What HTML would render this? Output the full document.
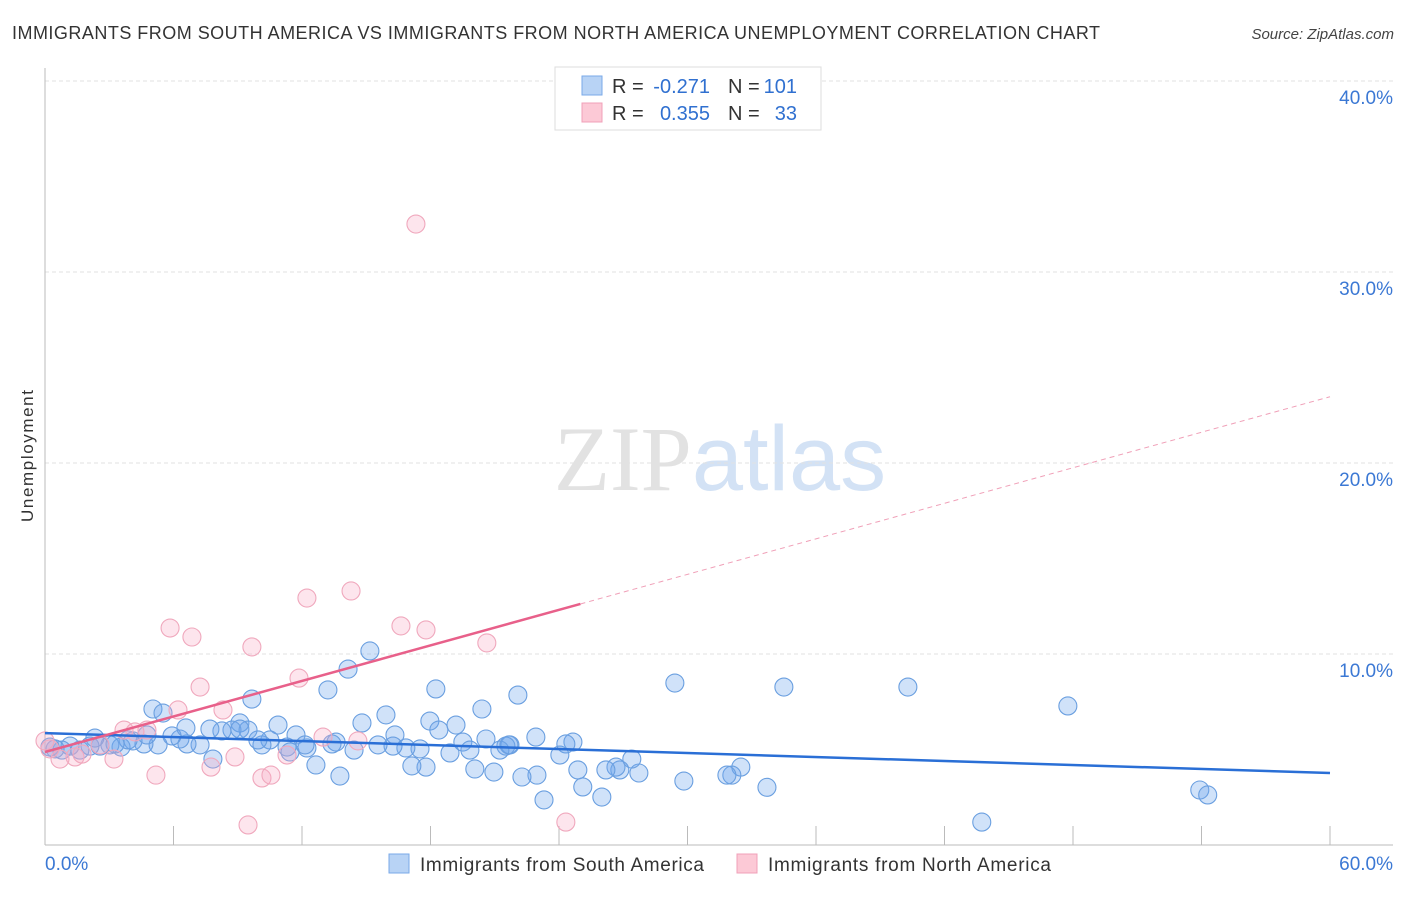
<!DOCTYPE html>
<html><head><meta charset="utf-8"><style>
body{margin:0;background:#fff;font-family:"Liberation Sans",sans-serif;}
svg text{font-family:"Liberation Sans",sans-serif;}
</style></head><body>
<svg id="chart" width="1406" height="892" xmlns="http://www.w3.org/2000/svg">
<text x="12" y="39" font-size="18" fill="#333" textLength="1088" lengthAdjust="spacing">IMMIGRANTS FROM SOUTH AMERICA VS IMMIGRANTS FROM NORTH AMERICA UNEMPLOYMENT CORRELATION CHART</text>
<text x="1394" y="39" font-size="15" fill="#444" text-anchor="end" font-style="italic">Source: ZipAtlas.com</text>
<text x="720" y="490" font-size="92" text-anchor="middle"><tspan fill="#e2e2e2" font-family="Liberation Serif">ZIP</tspan><tspan fill="#d3e2f5">atlas</tspan></text>
<text transform="translate(33,456) rotate(-90)" font-size="17" fill="#333" text-anchor="middle" textLength="132" lengthAdjust="spacing">Unemployment</text>
<g id="grid"></g><g id="pts"></g><g id="lines"></g>
<g>
<rect x="555" y="67" width="266" height="63" fill="#fff" stroke="#ddd"/>
<rect x="582" y="76" width="20" height="19" fill="#b8d3f5" stroke="#7aaae8"/>
<rect x="582" y="103" width="20" height="19" fill="#fcc9d6" stroke="#f0a0b8"/>
<text x="612" y="93" font-size="20" fill="#333">R =</text>
<text x="710" y="93" font-size="20" fill="#3070d0" text-anchor="end">-0.271</text>
<text x="728" y="93" font-size="20" fill="#333">N =</text>
<text x="797" y="93" font-size="20" fill="#3070d0" text-anchor="end">101</text>
<text x="612" y="120" font-size="20" fill="#333">R =</text>
<text x="710" y="120" font-size="20" fill="#3070d0" text-anchor="end">0.355</text>
<text x="728" y="120" font-size="20" fill="#333">N =</text>
<text x="797" y="120" font-size="20" fill="#3070d0" text-anchor="end">33</text>
</g>
<g>
<rect x="389" y="854" width="20" height="19" fill="#b8d3f5" stroke="#7aaae8"/>
<text x="420" y="871" font-size="19" fill="#333" textLength="284" lengthAdjust="spacing">Immigrants from South America</text>
<rect x="737" y="854" width="20" height="19" fill="#fcc9d6" stroke="#f0a0b8"/>
<text x="768" y="871" font-size="19" fill="#333" textLength="283" lengthAdjust="spacing">Immigrants from North America</text>
</g>
</svg>
<script>
const yTicks=[10,20,30,40];
const xTickLabels=["0.0%","60.0%"];
const blueX=[5.04,5.51,9.66,9.1,10.88,13.21,14.15,15.17,14.8,15.92,18.25,17.97,19.19,20.4,22.08,22.92,29.41,34.5,40.29,47.76,53.92,54.29,43.74,33.71,32.49,32.07,31.84,29.83,27.73,27.4,26.84,26.66,26.19,26,25.11,24.88,24.65,24.32,24.04,23.3,22.97,22.27,21.71,21.52,21.24,20.96,20.59,20.07,19.51,18.91,18.39,17.79,17.51,17.13,16.85,16.34,16.25,15.55,14.43,13.77,13.59,12.65,12.23,11.72,11.3,10.5,10.13,9.48,8.73,8.26,7.84,7.7,7.24,6.63,6.3,5.93,5.28,4.62,4.11,3.55,3.03,2.57,2.1,1.63,1.17,0.79,0.47,0.23,9.1,9.94,11.44,12.14,13.4,19.84,21.66,6.58,4.76,3.88,3.27,2.33];
const blueY=[7.12,6.91,7.64,6.39,6.28,8.12,9.21,10.16,6.39,6.81,8.17,6.49,6.28,7.12,7.85,5.65,8.48,8.27,8.27,7.28,2.88,2.62,1.20,3.02,4.08,3.66,3.66,3.35,3.77,4.5,3.93,4.08,3.93,2.51,3.04,3.93,5.39,5.29,4.71,2.36,3.66,3.56,5.24,5.18,4.97,3.82,5.55,3.98,5.39,4.82,6.02,4.08,5.03,4.14,5.08,5.76,5.18,5.24,4.97,3.61,5.39,4.19,5.08,5.76,5.13,5.5,5.24,6.02,6.02,5.97,4.5,6.07,5.24,5.29,5.55,5.71,5.24,5.29,5.45,5.13,5.24,5.18,5.18,4.97,5.18,4.97,5.03,5.13,6.07,5.5,4.87,5.24,5.29,4.97,5.24,6.13,5.76,5.5,5.29,5.6];
const pinkX=[17.32,14.29,12.23,5.84,6.86,9.66,16.62,17.79,20.63,11.86,7.24,6.21,8.31,14.61,12.98,11.3,8.87,7.75,5.18,10.13,10.55,9.48,24.32,3.69,4.2,4.76,3.22,1.4,0.7,1.73,0.23,2.57,0];
const pinkY=[32.51,13.3,12.93,11.36,10.89,10.37,11.47,11.26,10.58,8.74,8.27,7.07,7.07,5.45,5.65,4.71,4.61,4.08,3.66,3.51,3.66,1.05,1.2,6.02,5.92,6.02,4.5,4.61,4.5,4.76,5.03,5.24,5.45];
const blueFit=[5.86,3.77];
const pinkFit=[4.87,0.31];
const NS="http://www.w3.org/2000/svg";
const xs=v=>45+v*(1330-45)/60;
const ys=v=>845-v*19.1;
function mk(t,a,p){const e=document.createElementNS(NS,t);for(const k in a)e.setAttribute(k,a[k]);document.getElementById(p).appendChild(e);return e;}
yTicks.forEach(t=>{
 const l=mk('line',{x1:45,x2:1393,y1:ys(t),y2:ys(t),stroke:'#e2e2e2','stroke-dasharray':'4,3'},'grid');
 
 
 const tx=mk('text',{x:1393,y:ys(t)+23,'font-size':19,fill:'#3b78d4','text-anchor':'end'},'grid');
 tx.textContent=t.toFixed(1)+'%';
 
 
});
const ax=mk('line',{x1:45,x2:45,y1:68,y2:845,stroke:'#bbb'},'grid');


const bx=mk('line',{x1:45,x2:1393,y1:845,y2:845,stroke:'#bbb'},'grid');


for(let i=1;i<=10;i++){const tk=mk('line',{x1:xs(i*6),x2:xs(i*6),y1:826,y2:845,stroke:'#bbb'},'grid');
 
 }
[[0,'start',45],[60,'end',1393]].forEach((d,i)=>{const t=mk('text',{x:d[2],y:870,'font-size':19,fill:'#3b78d4','text-anchor':d[1]},'grid');t.textContent=xTickLabels[i];
 
 });
blueX.forEach((x,i)=>{const c=mk('circle',{cx:xs(x),cy:ys(blueY[i]),r:9,fill:'rgba(110,165,235,0.32)',stroke:'#6a9fe0','stroke-width':1.1},'pts');
 
 });
pinkX.forEach((x,i)=>{const c=mk('circle',{cx:xs(x),cy:ys(pinkY[i]),r:9,fill:'rgba(248,170,195,0.3)',stroke:'#f0a8bd','stroke-width':1.1},'pts');
 
 });
const bl=mk('line',{x1:xs(0),y1:ys(blueFit[0]),x2:xs(60),y2:ys(blueFit[1]),stroke:'#2a6fd6','stroke-width':2.5},'lines');


const pl=mk('line',{x1:xs(0),y1:ys(pinkFit[0]),x2:xs(25),y2:ys(pinkFit[0]+25*pinkFit[1]),stroke:'#e8608a','stroke-width':2.5},'lines');


const pd=mk('line',{x1:xs(25),y1:ys(pinkFit[0]+25*pinkFit[1]),x2:xs(60),y2:ys(pinkFit[0]+60*pinkFit[1]),stroke:'#f0a0b8','stroke-width':1,'stroke-dasharray':'5,4'},'lines');


</script>
</body></html>
